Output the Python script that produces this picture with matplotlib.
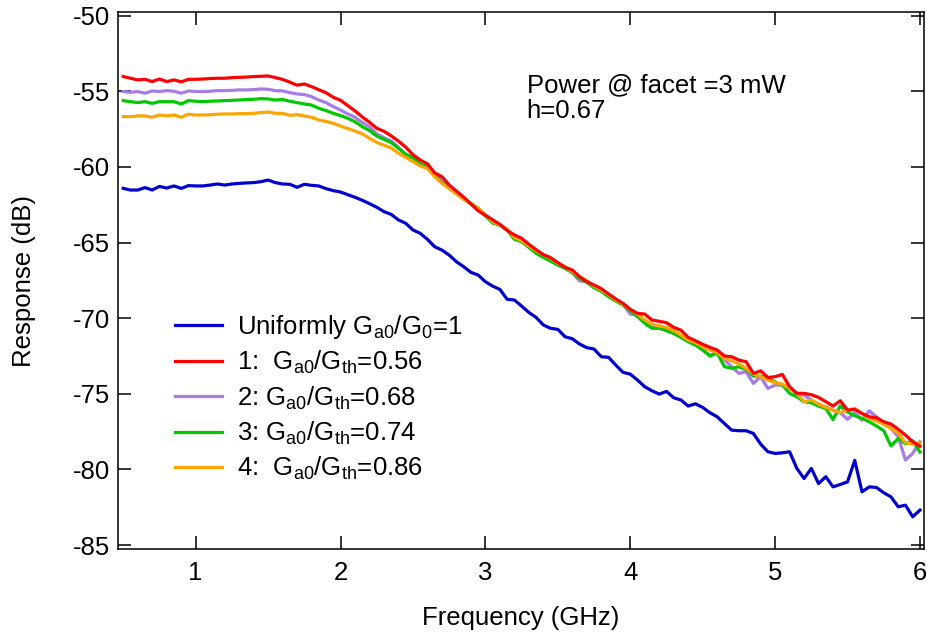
import numpy as np
import matplotlib
matplotlib.use("Agg")
import matplotlib.pyplot as plt

plt.rcParams["font.family"] = ["Liberation Sans", "DejaVu Sans"]
plt.rcParams["mathtext.fontset"] = "custom"
plt.rcParams["mathtext.rm"] = "Liberation Sans"
plt.rcParams["mathtext.it"] = "Liberation Sans"
plt.rcParams["mathtext.default"] = "regular"
plt.rcParams["axes.unicode_minus"] = False

# -------------------------
# Data
# -------------------------
freq = np.round(np.arange(0.5, 6.0001, 0.05), 2)

uniform = [
    -61.42, -61.53, -61.53, -61.37, -61.53, -61.29, -61.40, -61.26, -61.42, -61.24,
    -61.26, -61.26, -61.20, -61.13, -61.20, -61.13, -61.09, -61.06, -61.04, -60.98,
    -60.87, -61.04, -61.13, -61.15, -61.35, -61.15, -61.22, -61.26, -61.44, -61.57,
    -61.66, -61.84, -62.01, -62.21, -62.43, -62.67, -62.96, -63.14, -63.51, -63.73,
    -64.17, -64.39, -64.79, -65.28, -65.50, -65.83, -66.27, -66.60, -66.97, -67.15,
    -67.59, -67.88, -68.10, -68.75, -68.80, -69.20, -69.62, -69.95, -70.45, -70.67,
    -70.74, -71.23, -71.36, -71.71, -71.95, -72.04, -72.55, -72.59, -73.10, -73.58,
    -73.70, -74.09, -74.53, -74.80, -75.02, -74.84, -75.26, -75.41, -75.81, -75.66,
    -75.90, -76.25, -76.52, -76.96, -77.40, -77.44, -77.44, -77.62, -78.32, -78.83,
    -78.94, -78.90, -78.83, -79.93, -80.60, -79.93, -80.93, -80.48, -81.15, -80.99,
    -80.82, -79.40, -81.48, -81.15, -81.19, -81.54, -81.81, -82.47, -82.36, -83.13,
    -82.69,
]

case1 = [
    -54.03, -54.14, -54.25, -54.21, -54.36, -54.19, -54.36, -54.25, -54.38, -54.21,
    -54.21, -54.19, -54.16, -54.14, -54.14, -54.10, -54.08, -54.06, -54.03, -54.01,
    -53.99, -54.10, -54.22, -54.40, -54.60, -54.52, -54.70, -54.90, -55.10, -55.40,
    -55.60, -55.95, -56.30, -56.70, -57.05, -57.45, -57.65, -57.95, -58.30, -58.70,
    -59.20, -59.55, -59.80, -60.40, -60.65, -61.20, -61.60, -62.00, -62.45, -62.90,
    -63.20, -63.50, -63.80, -64.20, -64.50, -64.72, -65.12, -65.47, -65.80, -66.00,
    -66.33, -66.64, -66.82, -67.26, -67.59, -67.81, -68.05, -68.40, -68.73, -69.02,
    -69.42, -69.68, -69.73, -70.12, -70.21, -70.30, -70.61, -70.79, -71.27, -71.49,
    -71.73, -71.93, -72.11, -72.50, -72.55, -72.77, -72.88, -73.65, -73.48, -73.92,
    -73.87, -73.72, -74.53, -74.97, -74.97, -75.06, -75.24, -75.52, -75.81, -75.46,
    -76.08, -76.03, -76.30, -76.52, -76.58, -76.85, -77.00, -77.35, -77.73, -78.17,
    -78.46,
]

case2 = [
    -55.02, -55.07, -55.02, -55.13, -54.98, -55.02, -54.96, -55.00, -55.13, -54.98,
    -55.02, -55.02, -55.00, -54.96, -54.96, -54.94, -54.91, -54.91, -54.89, -54.85,
    -54.87, -54.96, -54.98, -55.09, -55.18, -55.22, -55.36, -55.58, -55.75, -56.02,
    -56.24, -56.50, -56.72, -57.07, -57.34, -57.82, -58.07, -58.29, -58.71, -59.17,
    -59.43, -59.81, -60.03, -60.43, -60.98, -61.37, -61.75, -62.08, -62.45, -62.74,
    -63.18, -63.64, -63.84, -64.13, -64.72, -64.88, -65.27, -65.60, -65.93, -66.11,
    -66.42, -66.64, -66.99, -67.54, -67.59, -67.92, -68.18, -68.54, -68.80, -69.07,
    -69.73, -69.79, -70.17, -70.52, -70.61, -70.79, -71.01, -71.23, -71.49, -71.71,
    -72.11, -72.44, -72.33, -72.73, -73.21, -73.65, -73.54, -74.31, -73.87, -74.64,
    -74.42, -74.42, -74.64, -74.97, -75.08, -75.41, -75.75, -75.86, -76.08, -76.25,
    -76.69, -76.25, -76.74, -76.12, -76.52, -77.00, -77.29, -77.84, -79.38, -78.94,
    -78.17,
]

case3 = [
    -55.62, -55.69, -55.75, -55.69, -55.80, -55.69, -55.69, -55.69, -55.84, -55.62,
    -55.66, -55.69, -55.66, -55.64, -55.62, -55.60, -55.58, -55.55, -55.53, -55.49,
    -55.51, -55.58, -55.55, -55.66, -55.75, -55.84, -55.91, -56.13, -56.28, -56.46,
    -56.61, -56.79, -57.01, -57.34, -57.60, -57.96, -58.18, -58.40, -58.77, -59.17,
    -59.39, -59.81, -60.03, -60.54, -61.04, -61.42, -61.75, -62.12, -62.41, -62.74,
    -63.25, -63.71, -63.86, -64.17, -64.79, -64.94, -65.32, -65.71, -65.98, -66.24,
    -66.49, -66.71, -66.99, -67.37, -67.63, -67.99, -68.23, -68.58, -68.87, -69.13,
    -69.51, -69.90, -70.34, -70.67, -70.67, -70.83, -71.01, -71.27, -71.56, -71.78,
    -72.10, -72.50, -72.30, -73.20, -73.32, -73.21, -73.39, -73.83, -73.83, -73.92,
    -74.22, -74.42, -74.97, -75.19, -75.52, -75.59, -75.81, -75.97, -76.70, -75.80,
    -76.20, -76.45, -76.63, -76.85, -77.13, -77.44, -78.45, -77.95, -78.30, -78.10,
    -78.85,
]

case4 = [
    -56.68, -56.68, -56.63, -56.63, -56.72, -56.57, -56.63, -56.57, -56.72, -56.52,
    -56.57, -56.57, -56.55, -56.52, -56.50, -56.50, -56.48, -56.48, -56.46, -56.41,
    -56.37, -56.46, -56.46, -56.59, -56.55, -56.63, -56.72, -56.90, -56.99, -57.12,
    -57.30, -57.47, -57.63, -57.82, -58.11, -58.38, -58.57, -58.75, -59.10, -59.37,
    -59.65, -59.94, -60.12, -60.65, -61.09, -61.42, -61.79, -62.15, -62.45, -62.74,
    -63.18, -63.64, -63.84, -64.13, -64.66, -64.88, -65.23, -65.54, -65.82, -66.04,
    -66.38, -66.60, -66.93, -67.26, -67.52, -67.88, -68.14, -68.45, -68.80, -69.07,
    -69.42, -69.73, -70.12, -70.39, -70.52, -70.61, -70.83, -71.12, -71.45, -71.62,
    -71.89, -72.11, -72.28, -72.66, -72.81, -73.03, -73.32, -73.70, -73.87, -74.09,
    -74.27, -74.36, -74.64, -74.97, -75.52, -75.41, -75.68, -75.90, -76.08, -76.25,
    -76.08, -75.97, -76.30, -76.63, -76.80, -77.00, -77.29, -77.62, -78.24, -78.32,
    -78.24,
]

labels = [
    r"Uniformly G$_{a0}$/G$_{0}$=1",
    r"1:  G$_{a0}$/G$_{th}$=0.56",
    r"2: G$_{a0}$/G$_{th}$=0.68",
    r"3: G$_{a0}$/G$_{th}$=0.74",
    r"4:  G$_{a0}$/G$_{th}$=0.86",
]
colors = ["#0000CC", "#FF0000", "#A97BE6", "#00C800", "#FFA500"]
zorders = [2, 6, 3, 4, 5]

# -------------------------
# Plot
# -------------------------
fig = plt.figure(figsize=(9.28, 6.37), dpi=100)
ax = fig.add_axes([0.1272, 0.1381, 0.8685, 0.8431])

for y, lab, c, z in zip([uniform, case1, case2, case3, case4], labels, colors, zorders):
    ax.plot(freq, y, color=c, lw=2.3, label=lab, zorder=z)

ax.set_xlim(0.464, 6.028)
ax.set_ylim(-85.26, -49.76)
ax.set_xticks([1, 2, 3, 4, 5, 6])
ax.set_yticks(np.arange(-85, -49, 5))

ax.tick_params(direction="in", length=9.5, width=1.1, top=True, right=True,
               labelsize=18.5)
ax.tick_params(axis="x", pad=8.6)
ax.tick_params(axis="y", pad=5.8)
for s in ax.spines.values():
    s.set_linewidth(1.1)

ax.set_xlabel("Frequency (GHz)", fontsize=18.5)
ax.set_ylabel("Response (dB)", fontsize=18.5)
ax.xaxis.set_label_coords(0.5, -0.107)
ax.yaxis.set_label_coords(-0.102, 0.5)

ax.text(0.507, 0.886, "Power @ facet =3 mW\nh=0.67", transform=ax.transAxes,
        fontsize=18.5, va="top", ha="left", linespacing=1.12)

ax.legend(loc="upper left", bbox_to_anchor=(0.0707, 0.44), frameon=False,
          fontsize=18.5, handlelength=1.83, handletextpad=0.58,
          labelspacing=0.32, borderpad=0, borderaxespad=0)

fig.savefig("out.png", dpi=100)
